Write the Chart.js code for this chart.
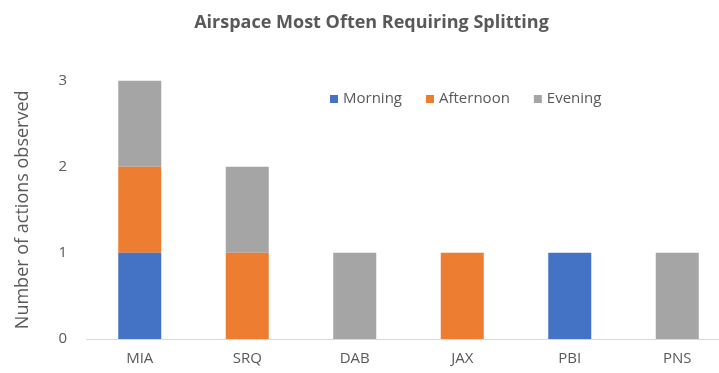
<!DOCTYPE html>
<html>
<head>
<meta charset="utf-8">
<script src="https://cdn.jsdelivr.net/npm/chart.js@4/dist/chart.umd.min.js"></script>
<style>
  html, body { margin: 0; padding: 0; background: #fff; overflow: hidden; }
  #wrap { width: 755px; height: 373px; }
</style>
</head>
<body>
<div id="wrap"><canvas id="splitChart" width="755" height="373"></canvas></div>
<script>
const airports = ['MIA', 'SRQ', 'DAB', 'JAX', 'PBI', 'PNS'];
const morning = [1, 0, 0, 0, 1, 0];
const afternoon = [1, 1, 0, 1, 0, 0];
const evening = [1, 1, 1, 0, 0, 1];
const yTicks = [0, 1, 2, 3];

const textColor = '#595959';
const fontFamily = '"Open Sans", "Liberation Sans", sans-serif';

// legend drawn inside the plot area, upper right
const innerLegend = {
    id: 'innerLegend',
    afterDraw(chart) {
        const ctx = chart.ctx;
        const y = 99;
        let x = 330;
        ctx.save();
        ctx.font = '15px ' + fontFamily;
        ctx.textBaseline = 'middle';
        chart.data.datasets.forEach(ds => {
            ctx.fillStyle = ds.backgroundColor;
            ctx.fillRect(x, y - 4, 8, 8);
            x += 13;
            ctx.fillStyle = textColor;
            ctx.fillText(ds.label, x, y);
            x += ctx.measureText(ds.label).width + 24;
        });
        ctx.restore();
    }
};

new Chart('splitChart', {
    type: 'bar',
    data: {
        labels: airports,
        datasets: [
            { label: 'Morning', data: morning, backgroundColor: '#4472C4' },
            { label: 'Afternoon', data: afternoon, backgroundColor: '#ED7D31' },
            { label: 'Evening', data: evening, backgroundColor: '#A5A5A5' }
        ]
    },
    options: {
        responsive: false,
        animation: false,
        layout: { padding: { left: 12, right: 24, top: 0, bottom: 0 } },
        datasets: { bar: { barPercentage: 0.4, categoryPercentage: 1 } },
        plugins: {
            legend: { display: false },
            tooltip: { enabled: false },
            title: {
                display: true,
                text: 'Airspace Most Often Requiring Splitting',
                color: textColor,
                font: { family: fontFamily, size: 18, weight: 'bold' },
                padding: { top: 12, bottom: 47 }
            }
        },
        scales: {
            x: {
                stacked: true,
                grid: { display: false, drawTicks: false },
                border: { display: true, color: '#D9D9D9', width: 1 },
                ticks: { color: textColor, font: { family: fontFamily, size: 15 }, padding: 11 },
                afterFit(scale) { scale.height = 34; }
            },
            y: {
                stacked: true,
                min: 0,
                max: 3,
                grid: { display: false, drawTicks: false },
                border: { display: false },
                afterBuildTicks(scale) { scale.ticks = yTicks.map(v => ({ value: v })); },
                ticks: { color: textColor, font: { family: fontFamily, size: 15 }, padding: 19 },
                title: {
                    display: true,
                    text: 'Number of actions observed',
                    color: textColor,
                    font: { family: fontFamily, size: 18 },
                    padding: 0
                },
                afterFit(scale) { scale.width = 74; }
            }
        }
    },
    plugins: [innerLegend]
});
</script>
</body>
</html>
